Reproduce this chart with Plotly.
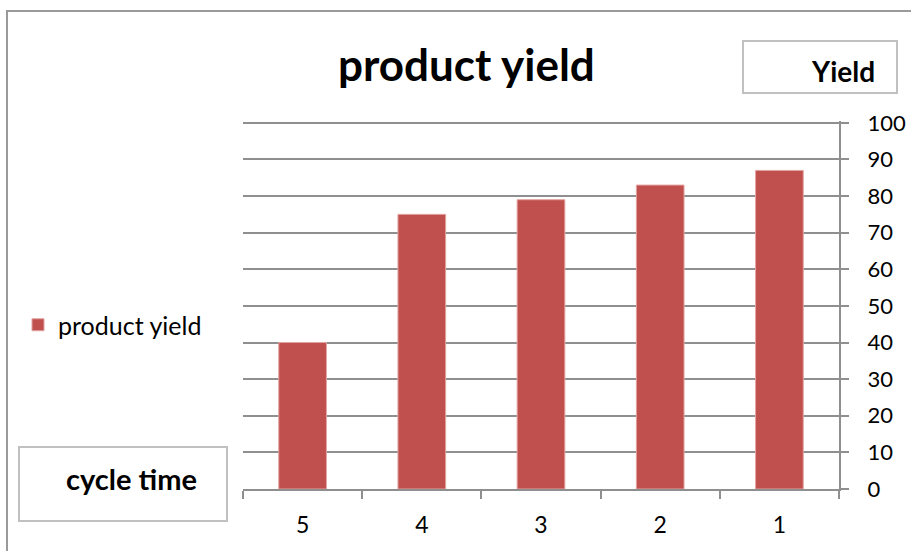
import plotly.graph_objects as go

# ---- data ----
cycles = ["5", "4", "3", "2", "1"]
yield_values = [40, 75, 79, 83, 87]
y_ticks = list(range(0, 101, 10))
series_name = "product yield"
chart_title = "product yield"
y_axis_title = "Yield"
x_axis_title = "cycle time"

# ---- layout geometry (pixels) ----
W, H = 911, 551
L, R, T, B = 243, 72, 121, 62
PW, PH = W - L - R, H - T - B


def px(x):
    return (x - L) / PW


def py(y):
    return (H - B - y) / PH


FONT = "Lato"
GRID = "#8f8f8f"
BAR = "#C0504D"

fig = go.Figure()
fig.add_trace(go.Bar(
    x=cycles, y=yield_values, name=series_name,
    marker=dict(color=BAR, line=dict(color="#E3A3A1", width=1)),
    showlegend=True,
))

fig.update_layout(
    width=W, height=H,
    margin=dict(l=L, r=R, t=T, b=B, autoexpand=False),
    paper_bgcolor="white", plot_bgcolor="white",
    bargap=0.6,
    font=dict(family=FONT, color="#000000"),
    showlegend=True,
    legend=dict(x=px(18), y=py(325), xanchor="left", yanchor="middle",
                font=dict(size=25, family=FONT, color="#000"),
                bgcolor="rgba(0,0,0,0)", borderwidth=0),
    xaxis=dict(
        type="category", categoryorder="array", categoryarray=cycles,
        automargin=False,
        showline=True, linecolor=GRID, linewidth=2,
        ticks="outside", tickson="boundaries", ticklen=8, tickcolor=GRID, tickwidth=2,
        tickfont=dict(size=23, family=FONT, color="#000"),
        ticklabelstandoff=14,
        showgrid=False, zeroline=False,
    ),
    yaxis=dict(
        side="right", range=[0, 100.5], tickvals=y_ticks,
        automargin=False,
        showline=True, linecolor=GRID, linewidth=2,
        ticks="outside", ticklen=8, tickcolor=GRID, tickwidth=2,
        tickfont=dict(size=22, family=FONT, color="#000"),
        ticklabelstandoff=14,
        showgrid=True, gridcolor=GRID, gridwidth=2,
        zeroline=False,
    ),
)

shapes = [
    # chart border (top and left visible)
    dict(type="rect", xref="paper", yref="paper",
         x0=px(7), x1=px(925), y0=py(565), y1=py(11),
         line=dict(color="#9a9a9a", width=2), fillcolor="rgba(0,0,0,0)", layer="below"),
    # Yield box
    dict(type="rect", xref="paper", yref="paper",
         x0=px(743), x1=px(897), y0=py(93), y1=py(41),
         line=dict(color="#c0c0c0", width=2), fillcolor="white"),
    # cycle time box
    dict(type="rect", xref="paper", yref="paper",
         x0=px(19), x1=px(227), y0=py(521), y1=py(447),
         line=dict(color="#c0c0c0", width=2), fillcolor="white"),
]
fig.update_layout(shapes=shapes)

annotations = [
    dict(text=f"<b>{chart_title}</b>", x=px(466), y=py(64), xref="paper", yref="paper",
         xanchor="center", yanchor="middle", showarrow=False,
         font=dict(size=44, family=FONT, color="#000")),
    dict(text=f"<b>{y_axis_title}</b>", x=px(843), y=py(71), xref="paper", yref="paper",
         xanchor="center", yanchor="middle", showarrow=False,
         font=dict(size=28, family=FONT, color="#000")),
    dict(text=f"<b>{x_axis_title}</b>", x=px(131), y=py(478), xref="paper", yref="paper",
         xanchor="center", yanchor="middle", showarrow=False,
         font=dict(size=29, family=FONT, color="#000")),
]
fig.update_layout(annotations=annotations)

fig.write_html("out.html")
